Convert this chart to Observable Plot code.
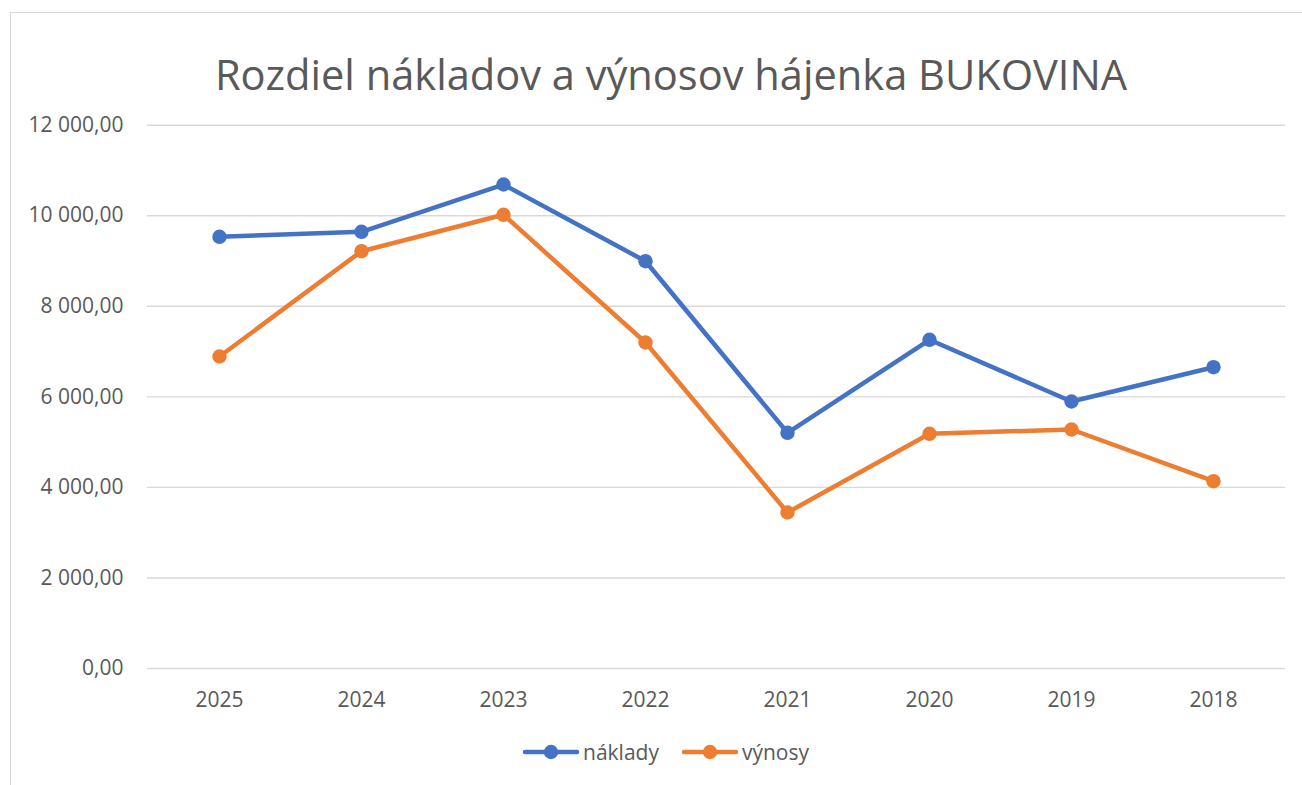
<!DOCTYPE html>
<html>
<head>
<meta charset="utf-8">
<script src="https://cdn.jsdelivr.net/npm/d3@7"></script>
<script src="https://cdn.jsdelivr.net/npm/@observablehq/plot@0.6"></script>
<style>
  html, body { margin: 0; padding: 0; background: #fff; }
  body { width: 1302px; height: 785px; position: relative; overflow: hidden; font-family: "Open Sans", sans-serif; }
  #frame { position: absolute; left: 10px; top: 12px; width: 1400px; height: 900px; border-left: 1.5px solid #d9d9d9; border-top: 1.5px solid #d9d9d9; }
  #title { position: absolute; left: 0; top: 46px; width: 1342px; text-align: center; font-size: 41.6px; line-height: 56px; color: #595959; white-space: nowrap; }
  #chart { position: absolute; left: 0; top: 0; }
  #legend { position: absolute; top: 738px; left: 522px; display: flex; align-items: center; font-size: 21px; color: #595959; line-height: 28px; }
  .item { display: flex; align-items: center; margin-right: 22px; }
  .item svg { margin-right: 3px; }
</style>
</head>
<body>
<div id="frame"></div>
<div id="chart"></div>
<div id="title">Rozdiel nákladov a výnosov hájenka BUKOVINA</div>
<div id="legend"></div>
<script>
const years = ["2025", "2024", "2023", "2022", "2021", "2020", "2019", "2018"];
const naklady = [9535, 9645, 10690, 8996, 5206, 7260, 5897, 6655];
const vynosy = [6891, 9217, 10021, 7200, 3446, 5184, 5279, 4137];
const seriesNames = ["náklady", "výnosy"];
const seriesColors = ["#4472C4", "#ED7D31"];
const yTicks = [0, 2000, 4000, 6000, 8000, 10000, 12000];

const data = [];
years.forEach((y, i) => data.push({year: y, value: naklady[i], series: seriesNames[0]}));
years.forEach((y, i) => data.push({year: y, value: vynosy[i], series: seriesNames[1]}));

const fmt = d => d3.format(",.2f")(d).replace(/,/g, " ").replace(".", ",");

const chart = Plot.plot({
  width: 1302,
  height: 785,
  marginTop: 124.7,
  marginBottom: 117,
  marginLeft: 147,
  marginRight: 17,
  style: {fontFamily: "'Open Sans', sans-serif", color: "#595959", background: "transparent", overflow: "visible"},
  x: {type: "point", domain: years, padding: 0.5},
  y: {domain: [0, 12000]},
  color: {domain: seriesNames, range: seriesColors},
  marks: [
    Plot.ruleY(yTicks, {stroke: "#d9d9d9", strokeWidth: 1.4}),
    Plot.axisY({ticks: yTicks, tickSize: 0, tickPadding: 24, tickFormat: fmt, fontSize: 21, label: null}),
    Plot.axisX({tickSize: 0, tickPadding: 24, fontSize: 21, label: null}),
    Plot.line(data, {x: "year", y: "value", z: "series", stroke: "series", strokeWidth: 4.5, strokeLinejoin: "round", strokeLinecap: "round"}),
    Plot.dot(data, {x: "year", y: "value", fill: "series", r: 7.2, stroke: "none"})
  ]
});
document.getElementById("chart").appendChild(chart);

const legend = document.getElementById("legend");
seriesNames.forEach((name, i) => {
  const item = document.createElement("div");
  item.className = "item";
  item.innerHTML = `<svg width="58" height="20"><line x1="3" y1="10" x2="55" y2="10" stroke="${seriesColors[i]}" stroke-width="4.5" stroke-linecap="round"/><circle cx="29" cy="10" r="7.2" fill="${seriesColors[i]}"/></svg><span>${name}</span>`;
  legend.appendChild(item);
});
</script>
</body>
</html>
